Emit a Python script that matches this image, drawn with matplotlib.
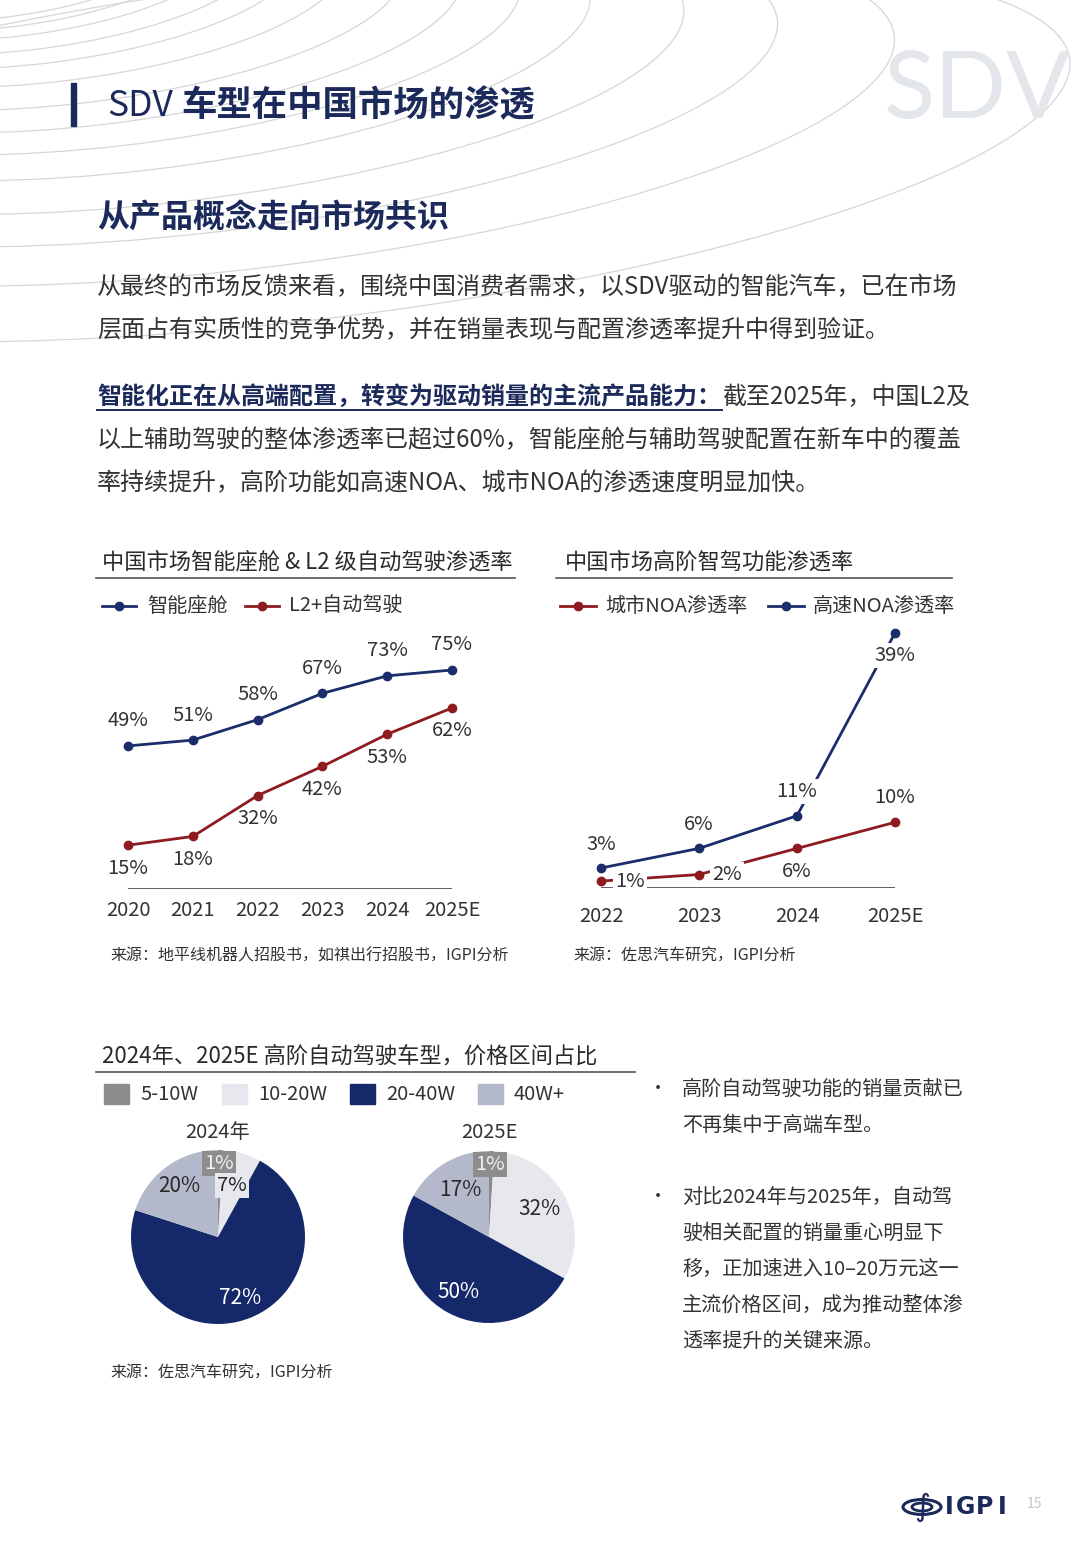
import matplotlib
matplotlib.use('Agg')
import matplotlib.pyplot as plt
from matplotlib.patches import Ellipse, Rectangle

plt.rcParams['font.family'] = ['Noto Sans CJK SC', 'DejaVu Sans']

# ---- data ----
years_cabin = ['2020', '2021', '2022', '2023', '2024', '2025E']
smart_cabin = [49, 51, 58, 67, 73, 75]
l2_plus = [15, 18, 32, 42, 53, 62]

years_noa = ['2022', '2023', '2024', '2025E']
city_noa = [1, 2, 6, 10]
highway_noa = [3, 6, 11, 39]

price_bands = ['5-10W', '10-20W', '20-40W', '40W+']
share_2024 = [1, 7, 72, 20]
share_2025 = [1, 32, 50, 17]

NAVY = '#1c2d6b'
RED = '#8e1b1f'
TXT = '#333333'
HEAD = '#1b2a5a'
band_colors = ['#8d8d8d', '#e6e8ee', '#15296a', '#b3b9ca']

W, H = 1080, 1559
fig = plt.figure(figsize=(W / 100, H / 100), dpi=100)
fig.patch.set_facecolor('white')
page = fig.add_axes([0, 0, 1, 1])
page.set_xlim(0, W)
page.set_ylim(H, 0)
page.axis('off')


def px_axes(left, top, right, bottom):
    return fig.add_axes([left / W, 1 - bottom / H, (right - left) / W, (bottom - top) / H])


# background arcs: nested ellipses shrinking toward the top-left corner
for s in [0.24, 0.26, 0.28, 0.31, 0.34, 0.38, 0.43, 0.48, 0.53, 0.59, 0.67, 0.75, 0.85, 1.0]:
    cx = -100 + s * 400
    cy = -100 + s * 250
    ratio = 0.34 - 0.12 * s
    page.add_patch(Ellipse((cx, cy), 2 * 775 * s, 2 * 775 * s * ratio, angle=-6.7,
                           fill=False, ec='#d6d6d6', lw=0.9, zorder=0))

# watermark
page.text(884, 92, 'SDV', fontsize=68, color='#e3e6eb', va='center', ha='left',
          family=['Lato', 'DejaVu Sans'], zorder=0)

# header
page.add_patch(Rectangle((71, 83), 5, 43, color=HEAD, zorder=2))
page.text(107, 106, 'SDV', fontsize=25.5, color=HEAD, va='center')
page.text(181, 106, '车型在中国市场的渗透', fontsize=25.5, color=HEAD, va='center',
          fontweight='bold')
page.text(97, 219, '从产品概念走向市场共识', fontsize=23, color=HEAD, va='center',
          fontweight='bold')

# body text
BODY = 17.3
page.text(97, 287, '从最终的市场反馈来看，围绕中国消费者需求，以SDV驱动的智能汽车，已在市场',
          fontsize=BODY, color=TXT, va='center')
page.text(97, 330, '层面占有实质性的竞争优势，并在销量表现与配置渗透率提升中得到验证。',
          fontsize=BODY, color=TXT, va='center')
page.text(97, 397, '智能化正在从高端配置，转变为驱动销量的主流产品能力：',
          fontsize=BODY, color=HEAD, va='center', fontweight='bold')
page.plot([97, 722], [410, 410], color=HEAD, lw=1.4)
page.text(722, 397, '截至2025年，中国L2及', fontsize=BODY, color=TXT, va='center')
page.text(97, 440, '以上辅助驾驶的整体渗透率已超过60%，智能座舱与辅助驾驶配置在新车中的覆盖',
          fontsize=BODY, color=TXT, va='center')
page.text(97, 483, '率持续提升，高阶功能如高速NOA、城市NOA的渗透速度明显加快。',
          fontsize=BODY, color=TXT, va='center')

# ---- chart 1 header / legend ----
page.text(102, 562, '中国市场智能座舱 & L2 级自动驾驶渗透率', fontsize=16, color='#2a2a2a', va='center')
page.plot([96, 515], [578, 578], color='#555555', lw=1.2)
page.plot([102, 136], [606, 606], color=NAVY, lw=2)
page.plot([119], [606], 'o', color=NAVY, ms=6)
page.text(147, 606, '智能座舱', fontsize=14.5, color=TXT, va='center')
page.plot([245, 279], [606, 606], color=RED, lw=2)
page.plot([262], [606], 'o', color=RED, ms=6)
page.text(289, 606, 'L2+自动驾驶', fontsize=14.5, color=TXT, va='center')

ax1 = px_axes(100, 630, 480, 889)
x1 = range(len(years_cabin))
ax1.plot(x1, smart_cabin, color=NAVY, lw=2, marker='o', ms=6)
ax1.plot(x1, l2_plus, color=RED, lw=2, marker='o', ms=6)
ax1.hlines(0, 0, len(years_cabin) - 1, color='#444444', lw=1.2)
for i, v in enumerate(smart_cabin):
    ax1.annotate(f'{v}%', (i, v), xytext=(0, 25), textcoords='offset pixels',
                 ha='center', va='center', fontsize=14.5, color=TXT)
for i, v in enumerate(l2_plus):
    ax1.annotate(f'{v}%', (i, v), xytext=(0, -23), textcoords='offset pixels',
                 ha='center', va='center', fontsize=14.5, color=TXT)
ax1.set_xlim(-28 / 64.8, 5 + 28 / 64.8)
ax1.set_ylim(0, 259 / 2.92)
ax1.set_xticks(list(x1), years_cabin)
ax1.set_yticks([])
ax1.tick_params(axis='x', length=0, pad=8, labelsize=14.5, labelcolor=TXT)
for s in ax1.spines.values():
    s.set_visible(False)
ax1.patch.set_alpha(0)
page.text(110, 956, '来源：地平线机器人招股书，如祺出行招股书，IGPI分析', fontsize=11.5,
          color=TXT, va='center')

# ---- chart 2 ----
page.text(565, 562, '中国市场高阶智驾功能渗透率', fontsize=16, color='#2a2a2a', va='center')
page.plot([556, 952], [578, 578], color='#555555', lw=1.2)
page.plot([560, 596], [606, 606], color=RED, lw=2)
page.plot([578], [606], 'o', color=RED, ms=6)
page.text(605, 606, '城市NOA渗透率', fontsize=14.5, color=TXT, va='center')
page.plot([768, 804], [606, 606], color=NAVY, lw=2)
page.plot([786], [606], 'o', color=NAVY, ms=6)
page.text(813, 606, '高速NOA渗透率', fontsize=14.5, color=TXT, va='center')

ax2 = px_axes(560, 620, 940, 887.6)
x2 = range(len(years_noa))
ax2.hlines(0, 0, len(years_noa) - 1, color='#444444', lw=1.2, zorder=1)
ax2.plot(x2, highway_noa, color=NAVY, lw=2, marker='o', ms=6, zorder=2)
ax2.plot(x2, city_noa, color=RED, lw=2, marker='o', ms=6, zorder=2)
hw_off = [(0, 24), (0, 24), (0, 24), (0, -23)]
city_off = [(29, 0), (28, 0), (0, -23), (0, 25)]
box = dict(facecolor='white', edgecolor='none', pad=1.5)
for i, v in enumerate(highway_noa):
    ax2.annotate(f'{v}%', (i, v), xytext=hw_off[i], textcoords='offset pixels',
                 ha='center', va='center', fontsize=14.5, color=TXT, bbox=box, zorder=4)
for i, v in enumerate(city_noa):
    ax2.annotate(f'{v}%', (i, v), xytext=city_off[i], textcoords='offset pixels',
                 ha='center', va='center', fontsize=14.5, color=TXT, bbox=box, zorder=4)
ax2.set_xlim(-41 / 98, 3 + 45 / 98)
ax2.set_ylim(0, 267.6 / 6.53)
ax2.set_xticks(list(x2), years_noa)
ax2.set_yticks([])
ax2.tick_params(axis='x', length=0, pad=13, labelsize=14.5, labelcolor=TXT)
for s in ax2.spines.values():
    s.set_visible(False)
ax2.patch.set_alpha(0)
page.text(573, 956, '来源：佐思汽车研究，IGPI分析', fontsize=11.5, color=TXT, va='center')

# ---- pies ----
page.text(102, 1056, '2024年、2025E 高阶自动驾驶车型，价格区间占比', fontsize=16,
          color='#2a2a2a', va='center')
page.plot([96, 635], [1072, 1072], color='#555555', lw=1.2)
leg_x = [104, 222, 350, 478]
for lx, name, c in zip(leg_x, price_bands, band_colors):
    page.add_patch(Rectangle((lx, 1084), 25, 20, color=c))
    page.text(lx + 36, 1094, name, fontsize=14.5, color=TXT, va='center')

pie_specs = [
    ('2024年', share_2024, 218, 1237, 87,
     [(0.01, 0.84), (0.16, 0.59), (0.26, -0.70), (-0.44, 0.59)]),
    ('2025E', share_2025, 489, 1237, 86,
     [(0.01, 0.84), (0.59, 0.33), (-0.35, -0.64), (-0.33, 0.55)]),
]
for title, shares, cx, cy, r, lab_pos in pie_specs:
    page.text(cx, 1132, title, fontsize=14.5, color=TXT, va='center', ha='center')
    axp = px_axes(cx - r, cy - r, cx + r, cy + r)
    axp.pie(shares, colors=band_colors, startangle=90, counterclock=False, radius=1,
            wedgeprops=dict(linewidth=0))
    axp.set_xlim(-1, 1)
    axp.set_ylim(-1, 1)
    axp.set_aspect('equal')
    for k, (v, (lx, ly)) in enumerate(zip(shares, lab_pos)):
        if k == 0:
            axp.text(lx, ly, f'{v}%', ha='center', va='center', fontsize=14.5,
                     color='#f0f0f0', bbox=dict(facecolor=band_colors[0], edgecolor='none', pad=1.5))
        elif k == 1 and v < 10:
            axp.text(lx, ly, f'{v}%', ha='center', va='center', fontsize=14.5,
                     color='#2a2a2a', bbox=dict(facecolor=band_colors[1], edgecolor='none', pad=1.5))
        elif k == 2:
            axp.text(lx, ly, f'{v}%', ha='center', va='center', fontsize=15, color='white')
        else:
            axp.text(lx, ly, f'{v}%', ha='center', va='center', fontsize=15, color='#2a2a2a')

page.text(110, 1373, '来源：佐思汽车研究，IGPI分析', fontsize=11.5, color=TXT, va='center')

# bullets
bullets = [
    (1089, ['高阶自动驾驶功能的销量贡献已', '不再集中于高端车型。']),
    (1197, ['对比2024年与2025年，自动驾', '驶相关配置的销量重心明显下',
            '移，正加速进入10–20万元这一', '主流价格区间，成为推动整体渗',
            '透率提升的关键来源。']),
]
for y0, lines in bullets:
    page.text(658, y0, '•', fontsize=13, color=TXT, va='center', ha='center')
    for j, ln in enumerate(lines):
        page.text(682, y0 + 36 * j, ln, fontsize=14.5, color=TXT, va='center')

# footer logo
page.add_patch(Ellipse((922, 1507), 38, 15, fill=False, ec=HEAD, lw=2.2))
page.add_patch(Ellipse((922, 1507), 20, 8, fill=False, ec=HEAD, lw=2))
page.text(922, 1507, '∫', fontsize=22, color=HEAD, va='center', ha='center',
          family=['DejaVu Sans'])
for lx, ch in zip([949, 966, 985, 1002], 'IGPI'):
    page.text(lx, 1507, ch, fontsize=17, color=HEAD, va='center', ha='center',
              fontweight='bold', family=['DejaVu Sans'])
page.text(1034, 1504, '15', fontsize=10, color='#c5c5c5', va='center', ha='center')

fig.savefig('out.png', dpi=100, facecolor='white')
